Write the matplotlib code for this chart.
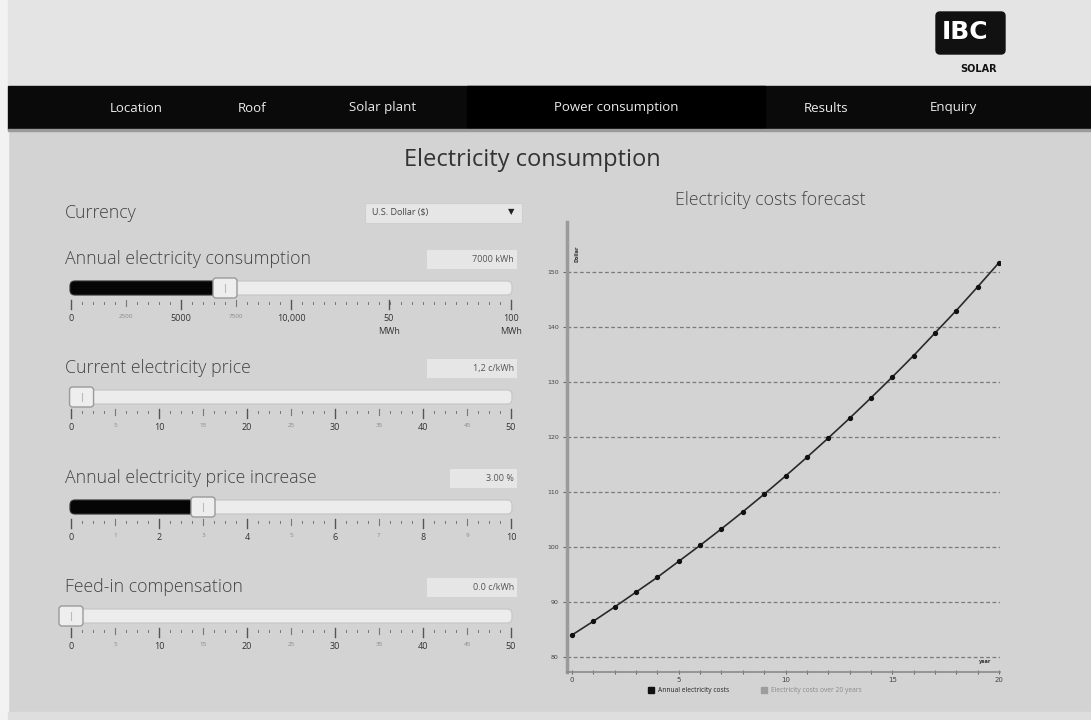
import numpy as np
import matplotlib
matplotlib.use('Agg')
import matplotlib.pyplot as plt
from matplotlib.patches import Rectangle, FancyBboxPatch

W, H = 1091, 720
FONT = 'Open Sans'

NAV_ITEMS = ['Location', 'Roof', 'Solar plant', 'Power consumption', 'Results', 'Enquiry']
NAV_X = [136, 252, 383, 616, 826, 953]

YEARS = list(range(0, 21))
ANNUAL_COSTS = [84.0, 86.5, 89.1, 91.8, 94.5, 97.4, 100.3, 103.3, 106.4, 109.6, 112.9,
                116.3, 119.8, 123.4, 127.1, 130.9, 134.8, 138.9, 143.0, 147.3, 151.7]
Y_TICKS = [80, 90, 100, 110, 120, 130, 140, 150]
X_TICK_LABELS = [0, 5, 10, 15, 20]

# slider: label, box text, value, tick values, tick labels, major flags, tick fractions
SLIDER_LABELS = ['Annual electricity consumption', 'Current electricity price',
                 'Annual electricity price increase', 'Feed-in compensation']
SLIDER_TEXT = ['7000 kWh', '1,2 c/kWh', '3.00 %', '0.0 c/kWh']
SLIDER_VALUES = [7000, 1.2, 3.0, 0.0]
SLIDER_TICKS = [
    [0, 2500, 5000, 7500, 10000, 50000, 100000],
    [0, 5, 10, 15, 20, 25, 30, 35, 40, 45, 50],
    [0, 1, 2, 3, 4, 5, 6, 7, 8, 9, 10],
    [0, 5, 10, 15, 20, 25, 30, 35, 40, 45, 50],
]
SLIDER_TICK_LABELS = [
    ['0', '2500', '5000', '7500', '10,000', '50\nMWh', '100\nMWh'],
    ['0', '5', '10', '15', '20', '25', '30', '35', '40', '45', '50'],
    ['0', '1', '2', '3', '4', '5', '6', '7', '8', '9', '10'],
    ['0', '5', '10', '15', '20', '25', '30', '35', '40', '45', '50'],
]
SLIDER_MAJOR = [
    [1, 0, 1, 0, 1, 1, 1],
    [1, 0, 1, 0, 1, 0, 1, 0, 1, 0, 1],
    [1, 0, 1, 0, 1, 0, 1, 0, 1, 0, 1],
    [1, 0, 1, 0, 1, 0, 1, 0, 1, 0, 1],
]
SLIDER_FRACS = [
    [0, 0.125, 0.25, 0.375, 0.5, 0.7227, 1.0],
    None, None, None,
]
SLIDER_TOP = [250, 359, 469, 578]
BOX_LEFT = [427, 427, 450, 427]

fig = plt.figure(figsize=(W / 100, H / 100), dpi=100)
fig.patch.set_facecolor('#d3d3d3')
ui = fig.add_axes([0, 0, 1, 1])
ui.set_xlim(0, W)
ui.set_ylim(H, 0)
ui.axis('off')

# page frame
ui.add_patch(Rectangle((0, 0), 8, H, color='#f2f2f2', zorder=0))
ui.add_patch(Rectangle((8, 0), W, 86, color='#e4e4e4', zorder=0))
ui.add_patch(Rectangle((8, 86), W, 43, color='#0a0a0a', zorder=1))
ui.add_patch(Rectangle((467, 86), 298, 43, color='#000000', zorder=1))
ui.add_patch(Rectangle((8, 129), W, 2, color='#9a9a9a', zorder=1))
ui.add_patch(Rectangle((8, 712), W, 8, color='#dedede', zorder=0))

for name, x in zip(NAV_ITEMS, NAV_X):
    ui.text(x, 108, name, color='#ececec', fontsize=9.5, family=FONT,
            ha='center', va='center', zorder=2)

# logo
ui.add_patch(FancyBboxPatch((936, 12), 69, 42, boxstyle='round,pad=0,rounding_size=4',
                            color='#111111', zorder=2))
ui.text(965, 32, 'IBC', color='white', fontsize=18, fontweight='bold', family='DejaVu Sans',
        ha='center', va='center', zorder=3)
ui.text(979, 69, 'SOLAR', color='#111111', fontsize=7, fontweight='bold', family='DejaVu Sans',
        ha='center', va='center', zorder=3)

ui.text(532, 160, 'Electricity consumption', color='#333333', fontsize=17, family=FONT,
        ha='center', va='center')

# currency
ui.text(65, 213, 'Currency', color='#444444', fontsize=12.8, family=FONT, fontweight='light',
        ha='left', va='center')
ui.add_patch(Rectangle((365, 203), 157, 20, facecolor='#e6e6e6', edgecolor='#cfcfcf', lw=0.8))
ui.text(372, 213, 'U.S. Dollar ($)', color='#444444', fontsize=6.5, family=FONT,
        ha='left', va='center')
ui.text(511, 212, '▼', color='#222222', fontsize=6, family='DejaVu Sans', ha='center', va='center')

TRACK_L, TRACK_R = 71, 511
for i in range(4):
    top = SLIDER_TOP[i]
    ui.text(65, top + 9, SLIDER_LABELS[i], color='#444444', fontsize=12.8, family=FONT,
            fontweight='light', ha='left', va='center')
    ui.add_patch(Rectangle((BOX_LEFT[i], top), 517 - BOX_LEFT[i], 19, facecolor='#e6e6e6',
                           edgecolor='none'))
    ui.text(514, top + 9.5, SLIDER_TEXT[i], color='#555555', fontsize=6.5, family=FONT,
            ha='right', va='center')

    ticks = np.array(SLIDER_TICKS[i], dtype=float)
    fracs = SLIDER_FRACS[i]
    if fracs is None:
        fracs = (ticks - ticks[0]) / (ticks[-1] - ticks[0])
    def to_px(v):
        return TRACK_L + np.interp(v, ticks, fracs) * (TRACK_R - TRACK_L)

    ty = top + 31
    ui.add_patch(FancyBboxPatch((TRACK_L - 1, ty), TRACK_R - TRACK_L + 2, 14,
                                boxstyle='round,pad=0,rounding_size=5',
                                facecolor='#ececec', edgecolor='#c4c4c4', lw=0.8, zorder=2))
    hx = to_px(SLIDER_VALUES[i])
    if hx - 12 > TRACK_L:
        ui.add_patch(FancyBboxPatch((TRACK_L - 1, ty), hx - TRACK_L, 14,
                                    boxstyle='round,pad=0,rounding_size=5',
                                    facecolor='#050505', edgecolor='#333333', lw=0.8, zorder=3))
    ui.add_patch(FancyBboxPatch((hx - 12, ty - 3), 24, 20,
                                boxstyle='round,pad=0,rounding_size=3',
                                facecolor='#eeeeee', edgecolor='#9a9a9a', lw=1, zorder=4))
    ui.plot([hx, hx], [ty + 3, ty + 11], color='#bbbbbb', lw=0.8, zorder=5)

    ry = top + 52
    for k in range(41):
        x = TRACK_L + k * (TRACK_R - TRACK_L) / 40
        ui.plot([x, x], [ry, ry + 2], color='#777777', lw=0.7)
    for v, lab, major in zip(ticks, SLIDER_TICK_LABELS[i], SLIDER_MAJOR[i]):
        x = to_px(v)
        ln = 9 if major else 6
        ui.plot([x, x], [ry - 2, ry - 2 + ln], color='#555555' if major else '#777777',
                lw=1.0 if major else 0.8)
        ui.text(x, ry + 12, lab, color='#333333' if major else '#888888',
                fontsize=6.5 if major else 4.5, family=FONT, ha='center', va='top',
                linespacing=1.6)

# chart
ui.text(770, 200, 'Electricity costs forecast', color='#444444', fontsize=12.8, family=FONT,
        fontweight='light', ha='center', va='center')

ax_l, ax_r, ax_t, ax_b = 567, 1000, 222, 672
ax = fig.add_axes([ax_l / W, 1 - ax_b / H, (ax_r - ax_l) / W, (ax_b - ax_t) / H])
ax.set_facecolor('none')
px_year = (999 - 572) / 20
px_unit = (657 - 272) / 70
ax.set_xlim(-(572 - ax_l) / px_year, 20 + (ax_r - 999) / px_year)
ax.set_ylim(80 - (ax_b - 657) / px_unit, 150 + (272 - ax_t) / px_unit)

ax.plot(YEARS, ANNUAL_COSTS, color='#2a2a2a', lw=1.2, marker='o', markersize=2.8,
        markerfacecolor='#111111', markeredgecolor='#111111', zorder=3)
ax.set_yticks(Y_TICKS)
ax.set_yticklabels([str(v) for v in Y_TICKS], fontsize=4.5, color='#444444')
ax.set_xticks(YEARS)
ax.set_xticklabels([str(v) if v in X_TICK_LABELS else '' for v in YEARS], fontsize=5,
                   color='#444444')
ax.tick_params(axis='y', length=3, width=0.8, color='#666666', pad=3)
ax.tick_params(axis='x', length=3, width=0.8, color='#666666', pad=2, direction='inout')
for y in Y_TICKS:
    ax.axhline(y, color='#7a7a7a', lw=0.9, ls=(0, (3, 2)), zorder=1)
for s in ['top', 'right']:
    ax.spines[s].set_visible(False)
ax.spines['left'].set_color('#9a9a9a')
ax.spines['left'].set_linewidth(2.5)
ax.spines['bottom'].set_color('#8a8a8a')
ax.spines['bottom'].set_linewidth(1.2)
ax.text(0.022, 0.93, 'Dollar', transform=ax.transAxes, rotation=90, fontsize=3.5,
        color='#333333', ha='center', va='center', fontweight='bold')
ax.text(0.965, 0.017, 'year', transform=ax.transAxes, fontsize=3.5, color='#333333',
        ha='center', va='bottom', fontweight='bold')

# legend
ui.add_patch(Rectangle((648, 687), 6, 6, color='#111111'))
ui.text(658, 690, 'Annual electricity costs', fontsize=4.8, color='#222222', family=FONT,
        ha='left', va='center')
ui.add_patch(Rectangle((761, 687), 6, 6, color='#9d9d9d'))
ui.text(771, 690, 'Electricity costs over 20 years', fontsize=4.8, color='#8a8a8a', family=FONT,
        ha='left', va='center')

fig.savefig('out.png', dpi=100, facecolor=fig.get_facecolor())
